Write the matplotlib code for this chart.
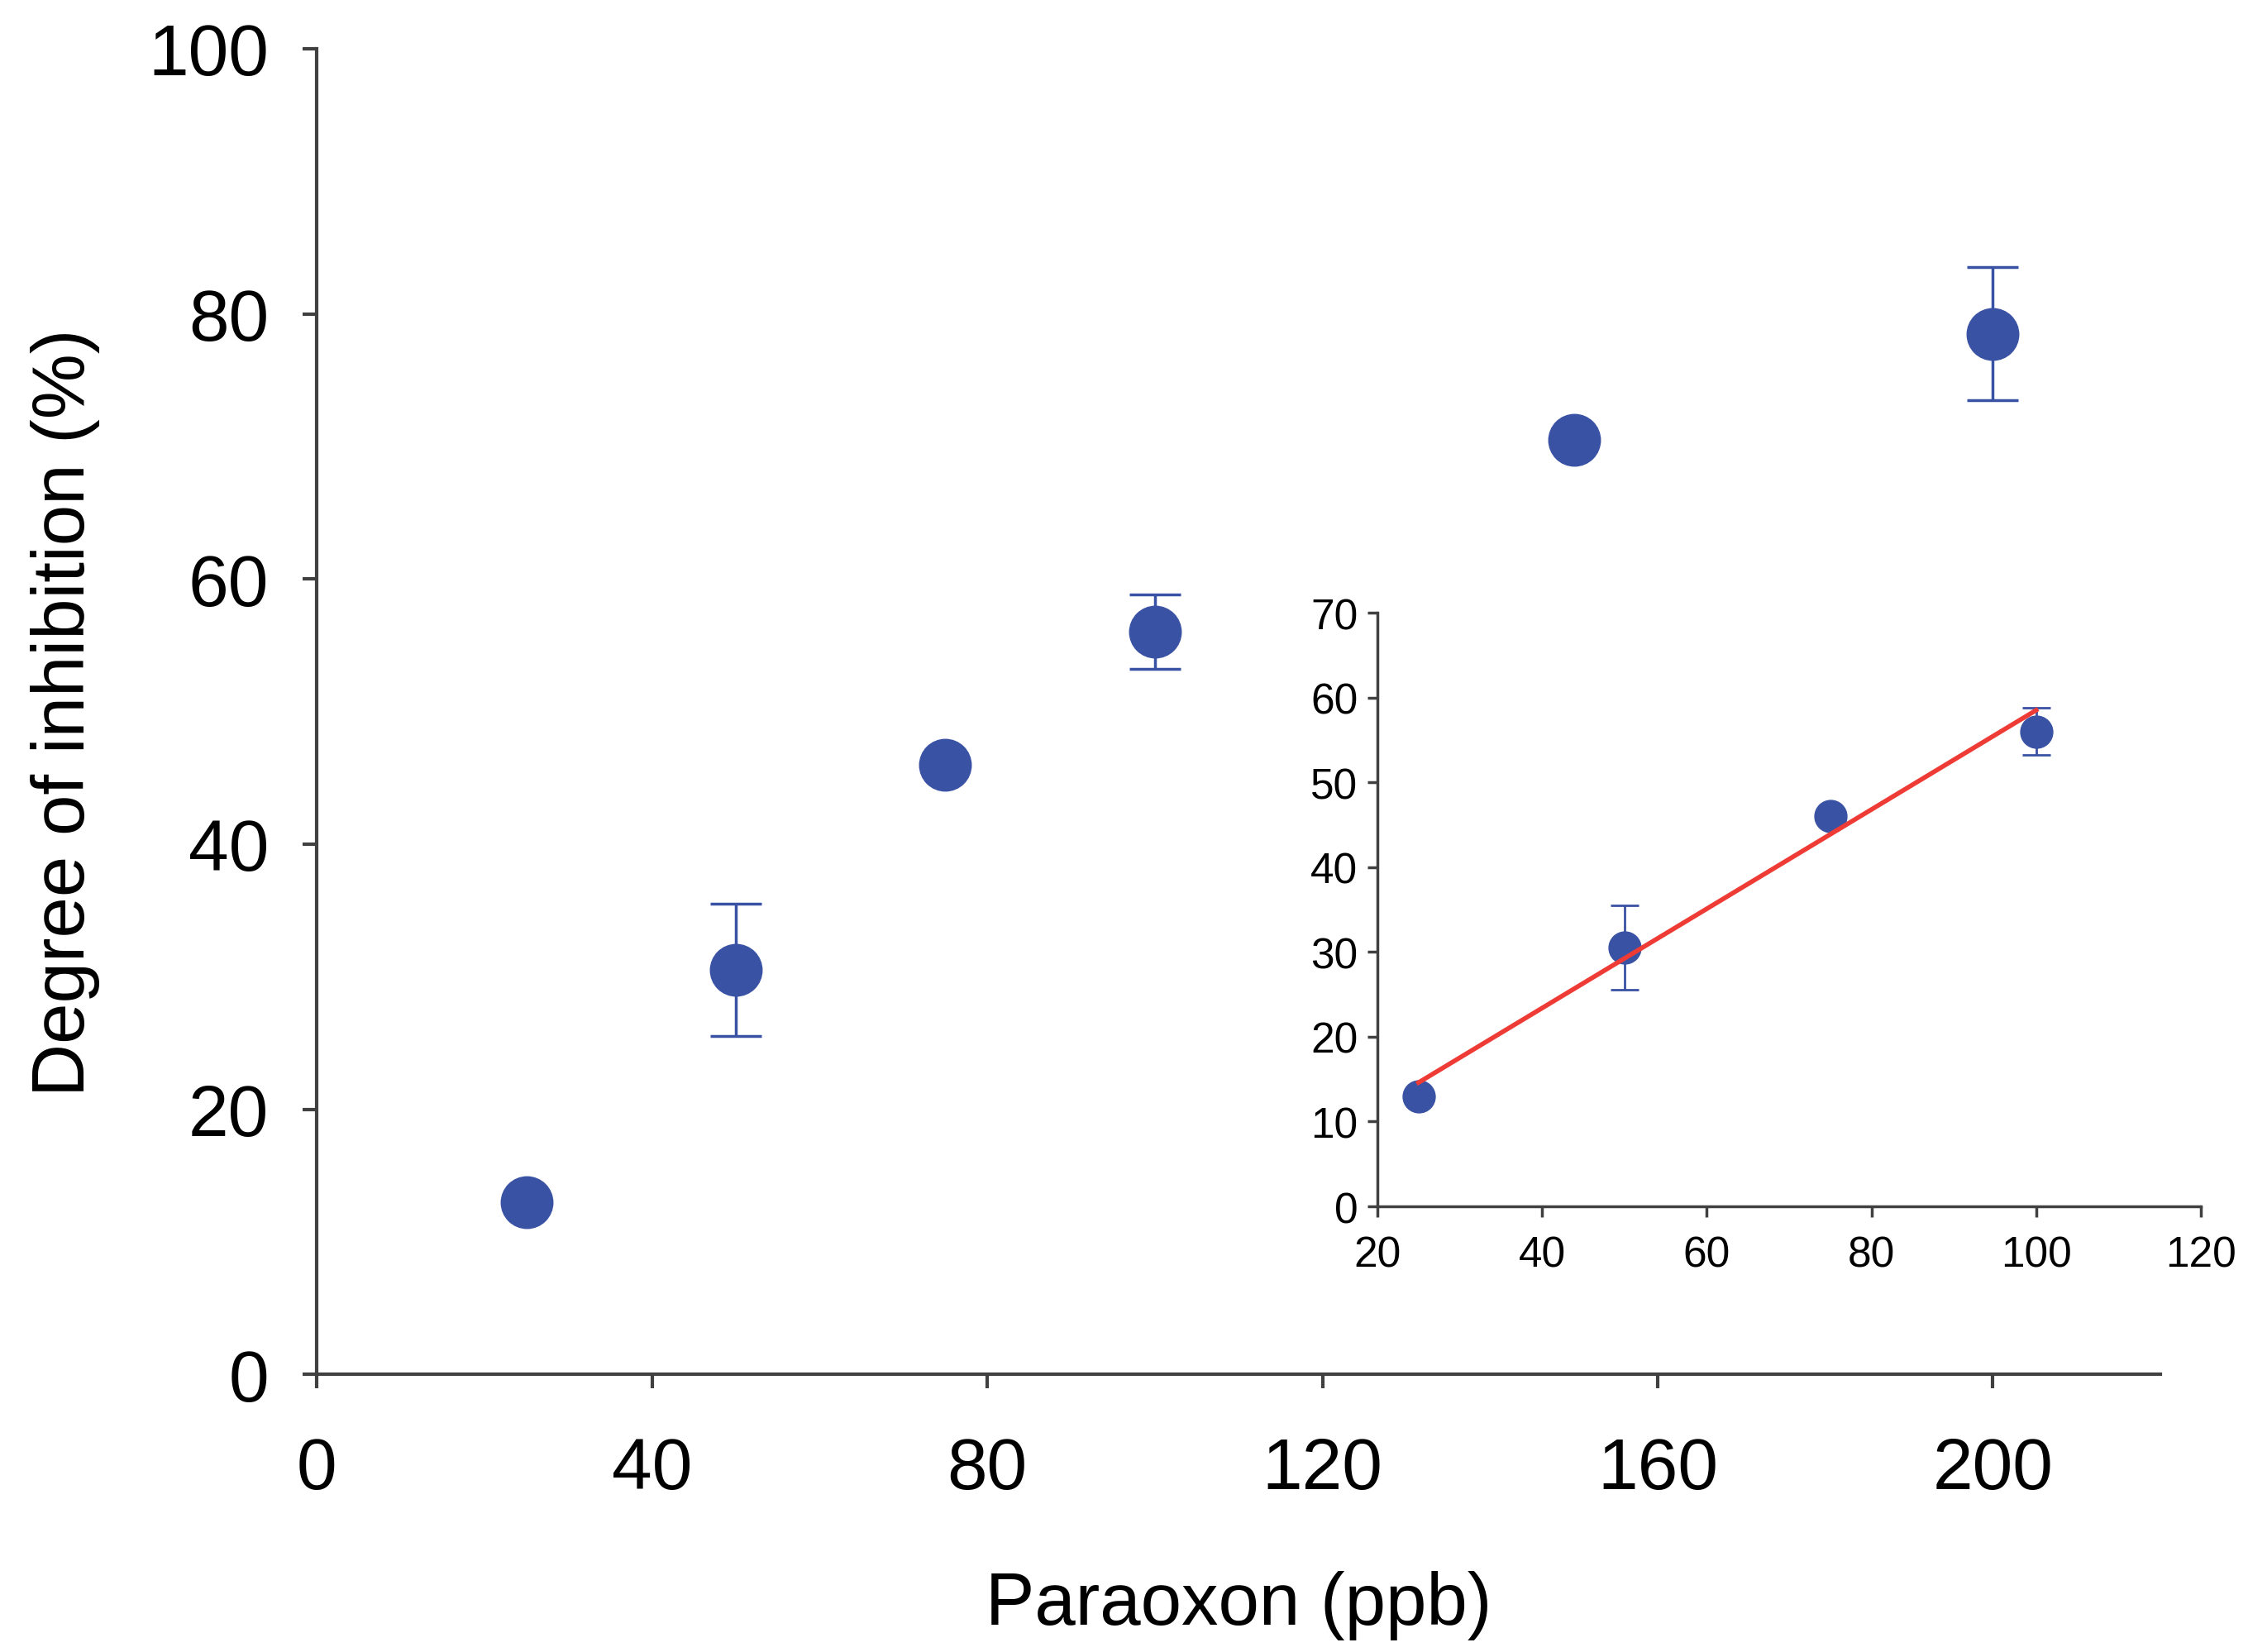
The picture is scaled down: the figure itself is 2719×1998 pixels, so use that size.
import numpy as np
import matplotlib.pyplot as plt

plt.rcParams['font.family'] = ['Liberation Sans', 'DejaVu Sans']

# main data
conc = [25, 50, 75, 100, 150, 200]
inhib = [13.0, 30.5, 46.0, 56.0, 70.5, 78.5]
inhib_err = [0, 5.0, 0, 2.8, 0, 5.0]

# inset (linear range)
conc_lin = [25, 50, 75, 100]
inhib_lin = [13.0, 30.5, 46.0, 56.0]
inhib_lin_err = [0, 5.0, 0, 2.8]
fit_x = [25, 100]
fit_y = [14.6, 58.5]

BLUE = '#3a52a4'
RED = '#ee3b35'
SPINE = '#404040'

fig = plt.figure(figsize=(27.19, 19.99), dpi=100)
ax = fig.add_axes([0.141, 0.168, 0.82, 0.802])

ax.errorbar(conc, inhib, yerr=inhib_err, fmt='o', color=BLUE, ms=45,
            elinewidth=2.5, capsize=22, capthick=2.5, ecolor=BLUE)
ax.set_xlim(0, 220)
ax.set_ylim(0, 100)
ax.set_xticks([0, 40, 80, 120, 160, 200])
ax.set_yticks([0, 20, 40, 60, 80, 100])
for s in ['top', 'right']:
    ax.spines[s].set_visible(False)
for s in ['left', 'bottom']:
    ax.spines[s].set_color(SPINE)
    ax.spines[s].set_linewidth(3)
ax.tick_params(axis='both', direction='out', length=12, width=3, color=SPINE,
               labelsize=63)
ax.tick_params(axis='x', pad=42)
ax.tick_params(axis='y', pad=30)
ax.set_xlabel('Paraoxon (ppb)', fontsize=64, labelpad=58)
ax.set_ylabel('Degree of inhibition (%)', fontsize=64, labelpad=42)

# inset
axi = fig.add_axes([0.6127, 0.2696, 0.3663, 0.3592])
axi.plot(fit_x, fit_y, color=RED, lw=4, zorder=3)
axi.errorbar(conc_lin, inhib_lin, yerr=inhib_lin_err, fmt='o', color=BLUE, ms=28,
             elinewidth=2, capsize=12, capthick=2, ecolor=BLUE, zorder=2)
axi.set_xlim(20, 120)
axi.set_ylim(0, 70)
axi.set_xticks([20, 40, 60, 80, 100, 120])
axi.set_yticks(np.arange(0, 71, 10))
for s in ['top', 'right']:
    axi.spines[s].set_visible(False)
for s in ['left', 'bottom']:
    axi.spines[s].set_color(SPINE)
    axi.spines[s].set_linewidth(2.5)
axi.tick_params(axis='both', direction='out', length=9, width=2.5, color=SPINE,
                labelsize=37)
axi.tick_params(axis='x', pad=16)
axi.tick_params(axis='y', pad=8)

fig.savefig('out.png', dpi=100)
